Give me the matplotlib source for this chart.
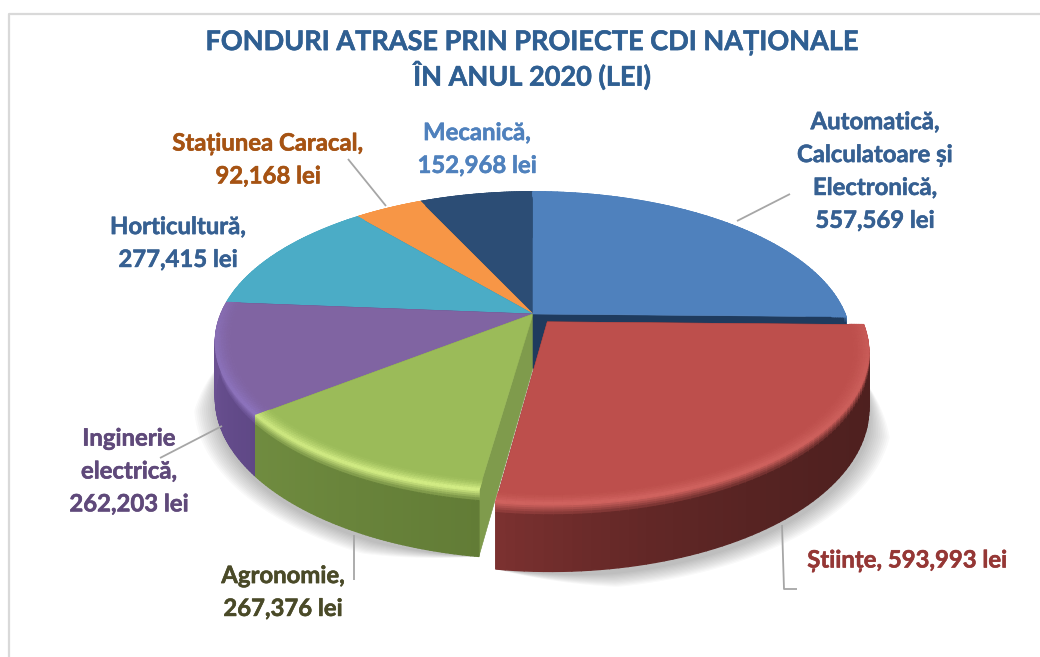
# -*- coding: utf-8 -*-
"""
3D look pie of the CDI funds, drawn as projected polygons
"""

#%% Importing all the necessary Python packages
import numpy as np # vectorized calculations
import matplotlib
matplotlib.use('Agg')
import matplotlib.pyplot as plt # plotting
import matplotlib.patheffects as pe
from matplotlib.collections import PolyCollection
from matplotlib.colors import to_rgb
from matplotlib.patches import Polygon

plt.rcParams['font.family'] = ['Lato', 'Open Sans', 'DejaVu Sans']

#%% Data, clockwise from 12 o'clock
names = ['Automatică,\nCalculatoare și\nElectronică,', 'Științe,', 'Agronomie,', 'Inginerie\nelectrică,',
         'Horticultură,', 'Stațiunea Caracal,', 'Mecanică,']
values = [557569, 593993, 267376, 262203, 277415, 92168, 152968]
title = 'FONDURI ATRASE PRIN PROIECTE CDI NAȚIONALE\nÎN ANUL 2020 (LEI)'

#%% Styles
topColors = ['#4f81bd', '#bd4f4c', '#9bbb59', '#8064a2', '#4bacc6', '#f79646', '#2c4d75']
bevelColors = ['#4f81bd', '#cf625e', '#d2ec84', '#8f76c2', '#4bacc6', '#f79646', '#2c4d75']
wallFront = ['#1f3b5e', '#7c3130', '#708c40', '#6f5496', '#3a8ba0', '#c87a38', '#1f3b5e']
wallBack = ['#1f3b5e', '#4e201f', '#627c36', '#5f4886', '#3a8ba0', '#c87a38', '#1f3b5e']
radialWall = ['#1f3b5e', '#6e2b2a', '#7f9b4c', '#5f4886', '#3a8ba0', '#c87a38', '#1f3b5e']
labelColors = ['#366092', '#953735', '#4a4a28', '#5f497a', '#366092', '#a65313', '#4f81bd']
labelPos = [(875, 171), (907, 560), (283, 592), (129, 471), (178, 243), (268, 159.5), (477, 149)]
leaders = [[(737, 221), (790, 194)], [(782, 525), (784, 589), (797, 589)], [(354, 535), (354, 580)],
           [(160, 458), (222, 426)], [(348, 159), (386, 206)]]

cx, cy = 533., 314. # pixel position of pie center
R, S, k = 312., 145., 0.187 # horizontal radius, vertical radius, perspective
D = 54. # thickness
explode = 0.07 # only the Stiinte slice
drawOrder = [6, 5, 4, 3, 2, 0, 1]


#%% Function Definitions
def project(t, r=1., h=0., e=0., tmid=0.):
    """ pie coordinates (angle clockwise from top, radius, depth) to pixels """
    u = r*np.sin(t) + e*np.sin(tmid)
    v = r*np.cos(t) + e*np.cos(tmid)
    w = 1 + k*v
    return np.column_stack([cx + R*u/w, cy + (-S*v + h*D)/w])


def mix(c1, c2, f):
    return tuple(np.array(to_rgb(c1))*(1-f) + np.array(to_rgb(c2))*f)


def addQuads(ax, quads, colors, zorder):
    pc = PolyCollection(quads, facecolors=colors, edgecolors=colors, linewidths=1.0, zorder=zorder)
    ax.add_collection(pc)


def drawSlice(ax, i, t0, t1, zorder):
    """ walls, rim, bevel and top face of one slice """
    tmid = 0.5*(t0+t1)
    e = explode if i == 1 else 0.
    ts = np.linspace(t0, t1, 70)

    # radial walls
    for ta in (t0, t1):
        t2 = np.array([ta, ta])
        p0 = project(t2, r=np.array([0., 1.]), e=e, tmid=tmid)
        p1 = project(t2, r=np.array([0., 1.]), h=1., e=e, tmid=tmid)
        ax.add_patch(Polygon(np.vstack([p0, p1[::-1]]), closed=True, fc=radialWall[i], ec=radialWall[i],
                             lw=0.4, zorder=zorder))

    # rim, darker to the right, light at the upper edge
    hSteps = [0., 0.03, 0.06, 0.09, 0.12, 0.16, 1.]
    quads, colors = [], []
    for a, b in zip(ts[:-1], ts[1:]):
        tm = 0.5*(a+b)
        f = (tm-t0)/(t1-t0)
        if i == 1:
            f = f**3
        wall = mix(wallBack[i], wallFront[i], f)
        front = max(0., -np.cos(tm)+0.25)/1.25
        rimLight = mix(topColors[i], bevelColors[i], front**0.5)
        for n in range(len(hSteps)-1):
            pa = project(np.array([a, b, b, a]), h=np.array([hSteps[n], hSteps[n], hSteps[n+1], hSteps[n+1]]),
                         e=e, tmid=tmid)
            quads.append(pa)
            colors.append(mix(rimLight, wall, min(1., hSteps[n]/0.16)))
    addQuads(ax, quads, colors, zorder+0.1)

    # top face
    pts = np.vstack([project(np.array([0.]), r=0., e=e, tmid=tmid), project(ts, e=e, tmid=tmid)])
    ax.add_patch(Polygon(pts, closed=True, fc=topColors[i], ec=topColors[i], lw=0.4, zorder=zorder+0.2))

    # bevel, only where the rim faces the viewer
    rSteps = np.linspace(0.955, 1., 7)
    quads, colors = [], []
    for a, b in zip(ts[:-1], ts[1:]):
        front = max(0., -np.cos(0.5*(a+b))+0.25)/1.25
        for n in range(len(rSteps)-1):
            r0, r1 = rSteps[n], rSteps[n+1]
            pa = project(np.array([a, b, b, a]), r=np.array([r0, r0, r1, r1]), e=e, tmid=tmid)
            quads.append(pa)
            colors.append(mix(topColors[i], bevelColors[i], front**0.5*((n+1)/(len(rSteps)-1))**1.5))
    addQuads(ax, quads, colors, zorder+0.3)


def shadowLayers(ax, t0, t1, e, tmid):
    """ soft grey shadow under the slices, stacked transparent polygons; fades out towards the ends """
    ts = np.linspace(t0, t1, 160)
    base = project(ts, h=1., e=e, tmid=tmid)
    c = project(np.array([tmid]), r=0., h=1., e=e, tmid=tmid)
    fade = np.clip(np.minimum(ts-t0, t1-ts)/0.3, 0., 1.)[:, None]
    for s in np.linspace(0.004, 0.07, 12):
        pts = np.vstack([c, c + (base-c)*(1+s*fade) + np.array([1., 5.])*fade])
        ax.add_patch(Polygon(pts, closed=True, fc='#303030', ec='none', alpha=0.028, zorder=1))


#%% Figure
fig = plt.figure(figsize=(10.4, 6.57), dpi=100)
ax = fig.add_axes([0, 0, 1, 1])
ax.set_xlim(0, 1040)
ax.set_ylim(657, 0)
ax.axis('off')

# chart frame
ax.plot([9, 9, 1045], [660, 14, 14], color='#d9d9d9', lw=1.6, zorder=0)

thick = [pe.withStroke(linewidth=0.4, foreground='#2f5f92')]
ax.text(532, 60, title, ha='center', va='center', fontsize=19.5, fontweight='bold',
        color='#2f5f92', linespacing=1.29, path_effects=thick)

# slice angles from the values
fracs = np.array(values)/float(np.sum(values))
edges = np.concatenate([[0.], np.cumsum(fracs)])*2*np.pi

# shadows: red slice alone, green and purple together
shadowLayers(ax, edges[1], edges[2], explode, 0.5*(edges[1]+edges[2]))
shadowLayers(ax, edges[2], edges[4], 0., 0.5*(edges[2]+edges[4]))

for z, i in enumerate(drawOrder):
    drawSlice(ax, i, edges[i], edges[i+1], 2+z)

# leader lines
for pts in leaders:
    xs, ys = zip(*pts)
    ax.plot(xs, ys, color='#a6a6a6', lw=1.3, zorder=20, solid_capstyle='butt')

# data labels
for i in range(len(values)):
    sep = ' ' if i == 1 else '\n'
    ax.text(labelPos[i][0], labelPos[i][1], '%s%s%s lei' % (names[i], sep, format(values[i], ',')),
            ha='center', va='center', fontsize=17.2, fontweight='bold', color=labelColors[i],
            linespacing=1.52, zorder=21,
            path_effects=[pe.withStroke(linewidth=0.4, foreground=labelColors[i])])

fig.savefig('out.png', dpi=100)
plt.close()
